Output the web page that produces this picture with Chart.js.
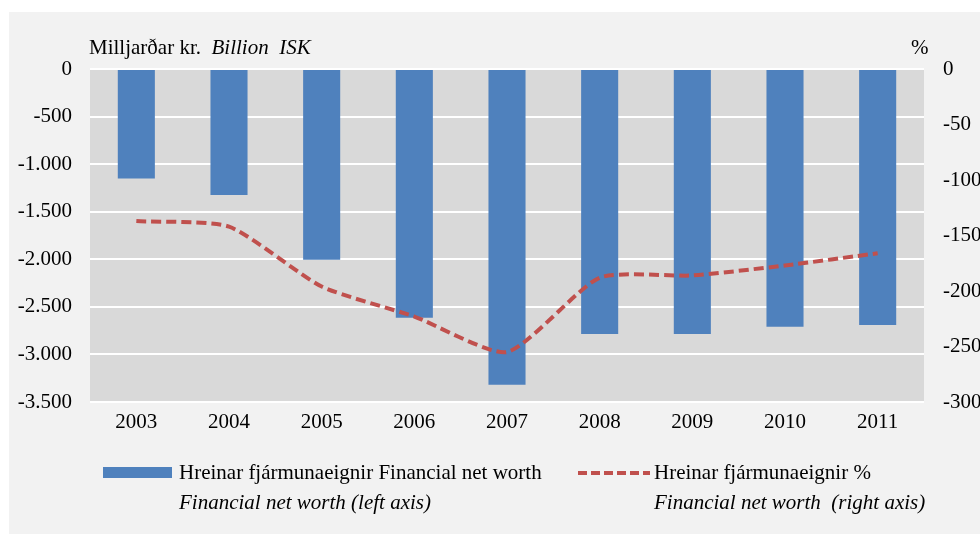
<!DOCTYPE html>
<html>
<head>
<meta charset="utf-8">
<script src="https://cdn.jsdelivr.net/npm/chart.js@4"></script>
<style>
	html, body { margin: 0; padding: 0; background: #ffffff; }
	#wrap { width: 980px; height: 534px; position: relative; }
</style>
</head>
<body>
<div id="wrap"><canvas id="chart" width="980" height="534"></canvas></div>
<script>
const years = ["2003", "2004", "2005", "2006", "2007", "2008", "2009", "2010", "2011"];
const netWorth = [-1150, -1325, -2005, -2615, -3320, -2785, -2785, -2710, -2690];
const netWorthPct = [-137, -142, -196, -223, -255, -188, -186, -177, -166];

const barLabel = ["Hreinar fjármunaeignir Financial net worth", "Financial net worth (left axis)"];
const lineLabel = ["Hreinar fjármunaeignir %", "Financial net worth  (right axis)"];

const serif = "'Liberation Serif', 'Times New Roman', serif";

function formatIs(value) {
	const s = Math.abs(value).toString().replace(/\B(?=(\d{3})+(?!\d))/g, ".");
	return (value < 0 ? "-" : "") + s;
}

const decor = {
	id: "decor",
	beforeDraw(chart) {
		const ctx = chart.ctx;
		ctx.save();
		ctx.fillStyle = "#ffffff";
		ctx.fillRect(0, 0, chart.width, chart.height);
		ctx.fillStyle = "#f2f2f2";
		ctx.fillRect(9, 12, chart.width - 9, chart.height - 12);
		const a = chart.chartArea;
		ctx.fillStyle = "#d9d9d9";
		ctx.fillRect(a.left, a.top, a.right - a.left, a.bottom - a.top);
		ctx.restore();
	},
	afterDraw(chart) {
		const ctx = chart.ctx;
		ctx.save();
		ctx.fillStyle = "#000000";
		ctx.textBaseline = "alphabetic";
		ctx.textAlign = "left";
		ctx.font = "21px " + serif;
		ctx.fillText("Milljarðar kr.", 89, 54);
		const w = ctx.measureText("Milljarðar kr.  ").width;
		ctx.font = "italic 21px " + serif;
		ctx.fillText("Billion  ISK", 89 + w, 54);
		ctx.font = "21px " + serif;
		ctx.fillText("%", 911, 54);

		// legend
		ctx.fillStyle = "#4f81bd";
		ctx.fillRect(103, 467, 69, 11);
		ctx.fillStyle = "#000000";
		ctx.font = "21px " + serif;
		ctx.fillText(barLabel[0], 179, 479);
		ctx.font = "italic 21px " + serif;
		ctx.fillText(barLabel[1], 179, 509);

		ctx.strokeStyle = "#c0504d";
		ctx.lineWidth = 4;
		ctx.setLineDash([9, 4]);
		ctx.beginPath();
		ctx.moveTo(578, 473);
		ctx.lineTo(650, 473);
		ctx.stroke();
		ctx.setLineDash([]);
		ctx.font = "21px " + serif;
		ctx.fillText(lineLabel[0], 654, 479);
		ctx.font = "italic 21px " + serif;
		ctx.fillText(lineLabel[1], 654, 509);
		ctx.restore();
	}
};

new Chart(document.getElementById("chart").getContext("2d"), {
	data: {
		labels: years,
		datasets: [
			{
				type: "line",
				label: lineLabel[0],
				data: netWorthPct,
				yAxisID: "y1",
				borderColor: "#c0504d",
				borderWidth: 4,
				borderDash: [10, 5],
				pointRadius: 0,
				tension: 0.2,
				fill: false,
				order: 0,
			},
			{
				type: "bar",
				label: barLabel[0],
				data: netWorth,
				yAxisID: "y",
				backgroundColor: "#4f81bd",
				borderWidth: 0,
				categoryPercentage: 1,
				barPercentage: 0.4,
				order: 1,
			},
		],
	},
	options: {
		responsive: false,
		animation: false,
		layout: { padding: { top: 69, left: 0, right: 0, bottom: 0 } },
		plugins: {
			legend: { display: false },
			tooltip: { enabled: false },
		},
		scales: {
			x: {
				grid: { display: false, drawTicks: false },
				border: { display: false },
				ticks: {
					color: "#000000",
					font: { family: serif, size: 21 },
					padding: 8,
					maxRotation: 0,
				},
				afterFit(scale) { scale.height = 132; },
			},
			y: {
				position: "left",
				min: -3500,
				max: 0,
				grid: { color: "#ffffff", lineWidth: 2, drawTicks: false },
				border: { display: false },
				ticks: {
					stepSize: 500,
					color: "#000000",
					font: { family: serif, size: 21 },
					padding: 18,
					callback: (v) => formatIs(v),
				},
				afterFit(scale) { scale.width = 90; },
			},
			y1: {
				position: "right",
				min: -300,
				max: 0,
				grid: { display: false, drawTicks: false },
				border: { display: false },
				ticks: {
					stepSize: 50,
					color: "#000000",
					font: { family: serif, size: 21 },
					padding: 19,
					callback: (v) => formatIs(v),
				},
				afterFit(scale) { scale.width = 56; },
			},
		},
	},
	plugins: [decor],
});
</script>
</body>
</html>
